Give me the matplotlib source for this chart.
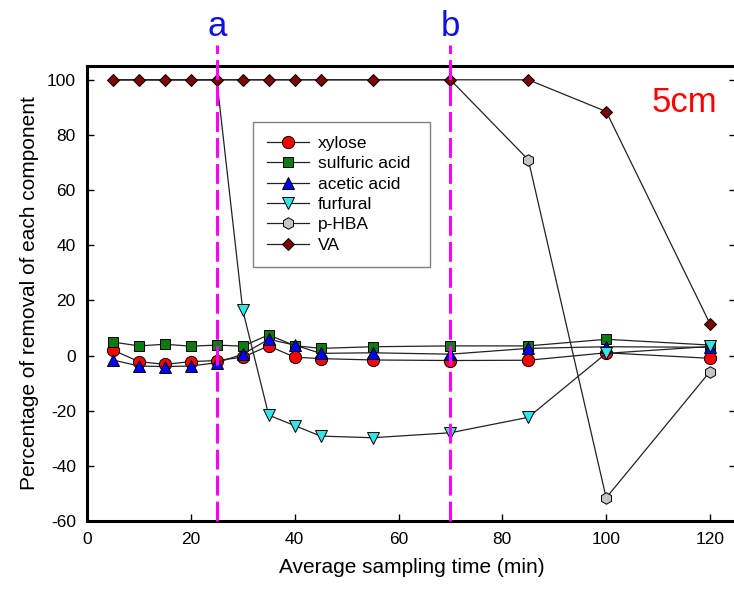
import matplotlib.pyplot as plt
import numpy as np

plt.rcParams['font.family'] = ['Liberation Sans', 'DejaVu Sans']
plt.rcParams['axes.unicode_minus'] = False

# sampling times (min)
time = [5, 10, 15, 20, 25, 30, 35, 40, 45, 55, 70, 85, 100, 120]

# removal (%) of each component
xylose = [2.0, -2.2, -3.2, -2.2, -1.8, -0.6, 3.5, -0.6, -1.1, -1.6, -1.8, -1.7, 1.0, -1.0]
sulfuric_acid = [4.9, 3.5, 4.1, 3.4, 3.8, 3.4, 7.5, 3.6, 2.6, 3.2, 3.5, 3.5, 5.9, 3.8]
acetic_acid = [-1.6, -3.8, -4.0, -3.8, -2.6, 0.5, 5.9, 3.8, 0.8, 1.0, 0.5, 2.6, 3.2, 3.0]
furfural = [100, 100, 100, 100, 100, 16.5, -21.6, -25.4, -29.2, -29.8, -28.0, -22.4, 0.8, 3.3]
p_hba = [100, 100, 100, 100, 100, 100, 100, 100, 100, 100, 100, 71.0, -51.6, -5.8]
va = [100, 100, 100, 100, 100, 100, 100, 100, 100, 100, 100, 100, 88.5, 11.5]

# breakthrough points
marks = {'a': 25, 'b': 70}

# (values, label, marker, face colour, size, first index with a visible marker)
series = [
    (xylose, 'xylose', 'o', '#ff0000', 8.8, 0),
    (sulfuric_acid, 'sulfuric acid', 's', '#0f7a12', 7.5, 0),
    (acetic_acid, 'acetic acid', '^', '#0000ff', 8.5, 0),
    (furfural, 'furfural', 'v', '#33e5e5', 8.5, 5),
    (p_hba, 'p-HBA', 'h', '#c4c4c4', 8.3, 11),
    (va, 'VA', 'D', '#7d0606', 6.2, 0),
]

fig = plt.figure(figsize=(7.34, 5.99), dpi=100)
ax = fig.add_axes([0.1185, 0.1302, 0.8842, 0.7596])

for values, label, marker, color, ms, start in series:
    # plateau points at 100 % sit under the VA diamonds
    ax.plot(time, values, color='#222222', lw=0.9, marker=marker, ms=ms,
            markevery=list(range(start, len(time))),
            markerfacecolor=color, markeredgecolor='black', markeredgewidth=0.7,
            label=label)

# dashed markers for the breakthrough times, running above the frame
for name, t in marks.items():
    ax.plot([t, t], [-60, 112.7], color='#ff00ff', lw=2.2,
            linestyle=(0, (6.5, 2.0)), clip_on=False, zorder=5)
    ax.text(t, 116, name, color='#1010e0', fontsize=25, ha='center',
            va='baseline', clip_on=False)

ax.text(115.1, 88.5, '5cm', color='#ff0000', fontsize=25, ha='center', va='baseline')

ax.set_xlim(0, 125)
ax.set_ylim(-60, 105)
ax.set_xticks(np.arange(0, 121, 20))
ax.set_yticks(np.arange(-60, 101, 20))

ax.set_xlabel('Average sampling time (min)', fontsize=15, labelpad=8)
ax.set_ylabel('Percentage of removal of each component', fontsize=15, labelpad=6)

ax.tick_params(direction='in', length=5, width=1, labelsize=12.5, pad=8,
               right=True, colors='black')
for side in ['left', 'bottom', 'top']:
    ax.spines[side].set_linewidth(2.2)
ax.spines['right'].set_visible(False)

leg = ax.legend(loc='upper left', bbox_to_anchor=(0.2558, 0.777, 0.2727, 0.1),
                mode='expand', borderaxespad=0, fontsize=12.5, handlelength=2.4,
                handletextpad=0.55, labelspacing=0.3, borderpad=0.8,
                fancybox=False, framealpha=1)
leg.get_frame().set_edgecolor('#808080')
leg.get_frame().set_linewidth(1)

plt.savefig('out.png', dpi=100)
